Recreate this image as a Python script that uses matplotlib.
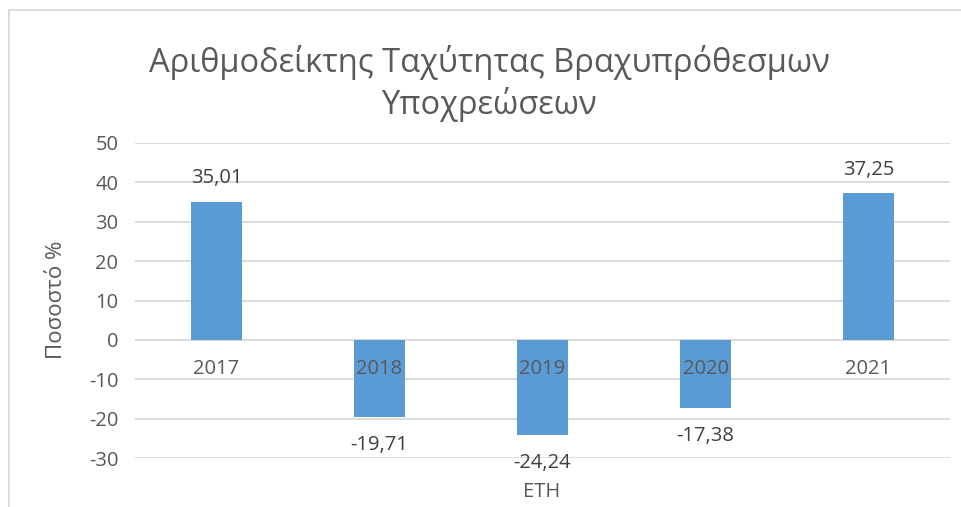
import matplotlib
matplotlib.use("Agg")
import matplotlib.pyplot as plt

plt.rcParams['font.family'] = ['Open Sans', 'DejaVu Sans']

years = ["2017", "2018", "2019", "2020", "2021"]
values = [35.01, -19.71, -24.24, -17.38, 37.25]
value_labels = ["35,01", "-19,71", "-24,24", "-17,38", "37,25"]
yticks = [-30, -20, -10, 0, 10, 20, 30, 40, 50]

W, H = 961, 507
fig = plt.figure(figsize=(W / 100, H / 100), dpi=100)
ax = fig.add_axes([135 / W, 1 - 458 / H, (950 - 135) / W, (458 - 143) / H])

txt = '#595959'
grid = '#D9D9D9'
x = list(range(len(years)))
ax.bar(x, values, width=0.31, color='#5B9BD5', zorder=3)
ax.set_xlim(-0.5, len(years) - 0.5)
ax.set_ylim(-30, 50)
ax.set_yticks(yticks)
ax.set_yticklabels([str(t) for t in yticks], color=txt, fontsize=14.5)
ax.tick_params(axis='y', length=0, pad=12)
ax.set_xticks([])
for s in ax.spines.values():
    s.set_visible(False)
for t in yticks:
    ax.axhline(t, color=grid, lw=1.3, zorder=1)

for i, (v, lab, yr) in enumerate(zip(values, value_labels, years)):
    ax.annotate(yr, (i, 0), xytext=(0, -21), textcoords='offset points',
                ha='center', va='center', color=txt, fontsize=14.5, zorder=5)
    off = 17 if v > 0 else -20
    ax.annotate(lab, (i, v), xytext=(0, off), textcoords='offset points',
                ha='center', va='center', color='#404040', fontsize=14.5, zorder=5)

fig.text(57 / W, 1 - 300 / H, "Ποσοστό %", rotation=90, ha='center', va='center',
         color=txt, fontsize=16)
fig.text(542 / W, 1 - 492 / H, "ΕΤΗ", ha='center', va='center', color=txt, fontsize=14.5)
fig.text(489 / W, 1 - 62 / H, "Αριθμοδείκτης Ταχύτητας Βραχυπρόθεσμων", ha='center',
         va='center', color=txt, fontsize=23.5)
fig.text(489 / W, 1 - 105 / H, "Υποχρεώσεων", ha='center', va='center', color=txt, fontsize=23.5)

# outer chart border (left and top visible)
fig.add_artist(plt.Line2D([9 / W, 9 / W], [0, 1 - 10 / H], transform=fig.transFigure,
                          color=grid, lw=1.3))
fig.add_artist(plt.Line2D([9 / W, 1], [1 - 10 / H, 1 - 10 / H], transform=fig.transFigure,
                          color=grid, lw=1.3))

fig.savefig("out.png", dpi=100)
